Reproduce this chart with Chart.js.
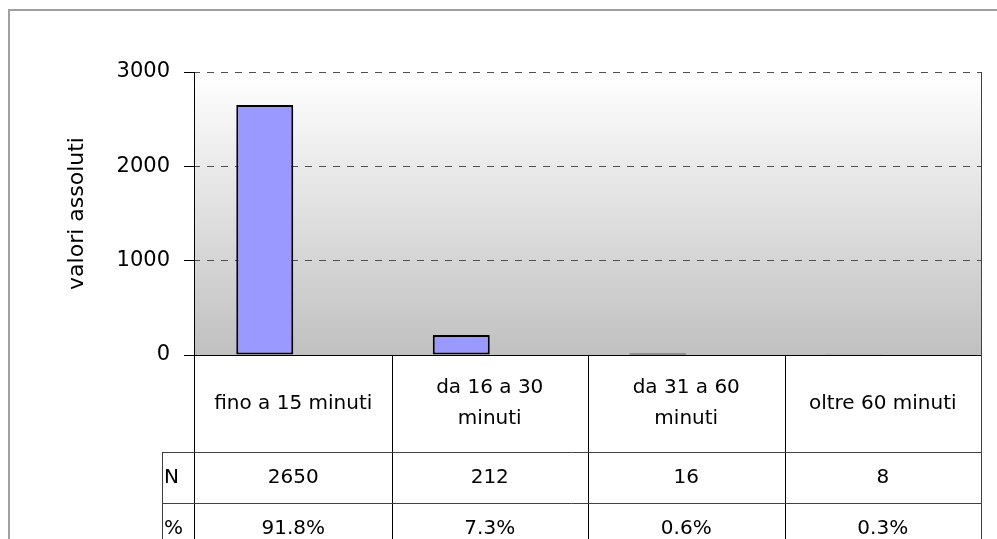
<!DOCTYPE html>
<html>
<head>
<meta charset="utf-8">
<script src="https://cdn.jsdelivr.net/npm/chart.js@4"></script>
<style>
  body { margin: 0; background: #fff; }
</style>
</head>
<body>
<canvas id="myChart" width="997" height="539"></canvas>
<script>
var categories = [['fino a 15 minuti'], ['da 16 a 30', 'minuti'], ['da 31 a 60', 'minuti'], ['oltre 60 minuti']];
var counts = [2650, 212, 16, 8];
var shares = [0.918, 0.073, 0.006, 0.003];
var rowNames = ['N', '%'];
var yMax = 3000;
var yStep = 1000;

var fontName = "'Comic Sans MS', 'DejaVu Sans', sans-serif";

// gradient behind the plot + the grey frame of the sheet
var bgPlugin = {
  id: 'bgPlugin',
  beforeDraw: function (chart) {
    var ctx = chart.ctx, a = chart.chartArea;
    ctx.save();
    ctx.strokeStyle = '#a0a0a0';
    ctx.lineWidth = 2;
    ctx.beginPath();
    ctx.moveTo(9, 539); ctx.lineTo(9, 10); ctx.lineTo(997, 10);
    ctx.stroke();
    var g = ctx.createLinearGradient(0, a.top, 0, a.bottom);
    g.addColorStop(0, '#ffffff');
    g.addColorStop(1, '#c0c0c0');
    ctx.fillStyle = g;
    ctx.fillRect(a.left, a.top, a.right - a.left, a.bottom - a.top);
    ctx.restore();
  }
};

// data table under the plot
var tablePlugin = {
  id: 'tablePlugin',
  afterDraw: function (chart) {
    var ctx = chart.ctx, a = chart.chartArea;
    var n = categories.length;
    var colW = (a.right - a.left) / n;
    var r1 = a.bottom + 97, r2 = r1 + 51, r3 = r2 + 51;
    var headL = a.left - 33;
    ctx.save();
    ctx.lineWidth = 1;
    ctx.strokeStyle = '#404040';
    ctx.beginPath();
    ctx.moveTo(a.right + 0.5, a.top); ctx.lineTo(a.right + 0.5, 539);
    ctx.stroke();
    ctx.strokeStyle = '#000';
    ctx.beginPath();
    ctx.moveTo(a.left, a.bottom + 0.5); ctx.lineTo(a.right, a.bottom + 0.5);
    ctx.moveTo(a.left - 0.5, a.top); ctx.lineTo(a.left - 0.5, 539);
    for (var i = 1; i < n; i++) {
      var bx = Math.round(a.left + colW * i) + 0.5;
      ctx.moveTo(bx, a.bottom); ctx.lineTo(bx, 539);
    }
    ctx.stroke();
    ctx.strokeStyle = '#404040';
    ctx.beginPath();
    ctx.moveTo(headL, r1 + 0.5); ctx.lineTo(a.right, r1 + 0.5);
    ctx.moveTo(headL, r2 + 0.5); ctx.lineTo(a.right, r2 + 0.5);
    ctx.moveTo(headL, r3 + 0.5); ctx.lineTo(a.right, r3 + 0.5);
    ctx.moveTo(headL + 0.5, r1); ctx.lineTo(headL + 0.5, 539);
    ctx.stroke();

    ctx.fillStyle = '#000';
    ctx.font = '20px ' + fontName;
    ctx.textAlign = 'center';
    ctx.textBaseline = 'middle';
    for (var j = 0; j < n; j++) {
      var cx = a.left + colW * (j + 0.5);
      var lines = categories[j];
      var mid = (a.bottom + r1) / 2;
      for (var k = 0; k < lines.length; k++) {
        ctx.fillText(lines[k], cx, mid + (k - (lines.length - 1) / 2) * 31);
      }
      ctx.fillText(String(counts[j]), cx, (r1 + r2) / 2);
      ctx.fillText((shares[j] * 100).toFixed(1) + '%', cx, (r2 + r3) / 2);
    }
    ctx.textAlign = 'left';
    ctx.fillText(rowNames[0], headL + 2, (r1 + r2) / 2);
    ctx.fillText(rowNames[1], headL + 2, (r2 + r3) / 2);
    ctx.restore();
  }
};

new Chart('myChart', {
  type: 'bar',
  data: {
    labels: categories,
    datasets: [{
      label: 'N',
      data: counts,
      backgroundColor: '#9999ff',
      borderColor: '#000',
      borderWidth: 2,
      borderSkipped: false
    }, {
      label: '%',
      data: shares,
      backgroundColor: 'rgba(0,0,0,0)',
      borderWidth: 0
    }]
  },
  options: {
    responsive: false,
    animation: false,
    events: [],
    categoryPercentage: 0.58,
    barPercentage: 1,
    layout: { padding: { left: 0, top: 72, right: 16, bottom: 184 } },
    plugins: { legend: { display: false }, tooltip: { enabled: false } },
    scales: {
      x: { display: false },
      y: {
        min: 0,
        max: yMax,
        afterFit: function (s) { s.width = 195; },
        ticks: {
          stepSize: yStep,
          padding: 14,
          color: '#000',
          font: { family: fontName, size: 21 },
          callback: function (v) { return String(v); }
        },
        grid: { color: '#505050', tickLength: 11, tickColor: '#000', tickBorderDash: [] },
        border: { display: false, dash: [7, 7], dashOffset: 2 },
        title: {
          display: true,
          text: 'valori assoluti',
          color: '#000',
          font: { family: fontName, size: 22 },
          padding: { top: 64, bottom: 0 }
        }
      }
    }
  },
  plugins: [bgPlugin, tablePlugin]
});
</script>
</body>
</html>
